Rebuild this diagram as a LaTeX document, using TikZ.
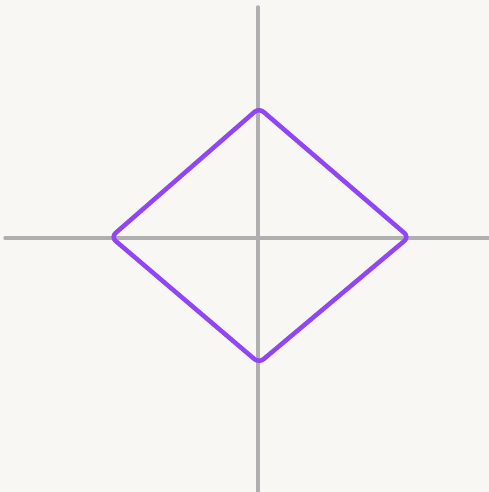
\documentclass[tikz,border=0pt]{standalone}
\definecolor{bg}{HTML}{F8F7F3}
\definecolor{axisgray}{HTML}{B0AFAF}
\definecolor{diapurple}{HTML}{9146F6}
\tikzset{
  axisline/.style={draw=axisgray,line width=3.5pt,line cap=round},
  diamondline/.style={draw=diapurple,line width=4.5pt,rounded corners=6pt,line join=round}
}
\begin{document}
\begin{tikzpicture}[x=1pt,y=-1pt]
\fill[bg] (0,0) rectangle (489,492);
\useasboundingbox (0,0) rectangle (489,492);
\coordinate (xl) at (5,238);
\coordinate (xr) at (489,238);
\coordinate (yt) at (258,7);
\coordinate (yb) at (258,492);
\draw[axisline] (xl) -- (xr);
\draw[axisline] (yt) -- (yb);
\coordinate (T) at (259,108);
\coordinate (R) at (409,237);
\coordinate (B) at (259,363);
\coordinate (L) at (111,237);
\draw[diamondline] (T) -- (R) -- (B) -- (L) -- cycle;
\end{tikzpicture}
\end{document}
